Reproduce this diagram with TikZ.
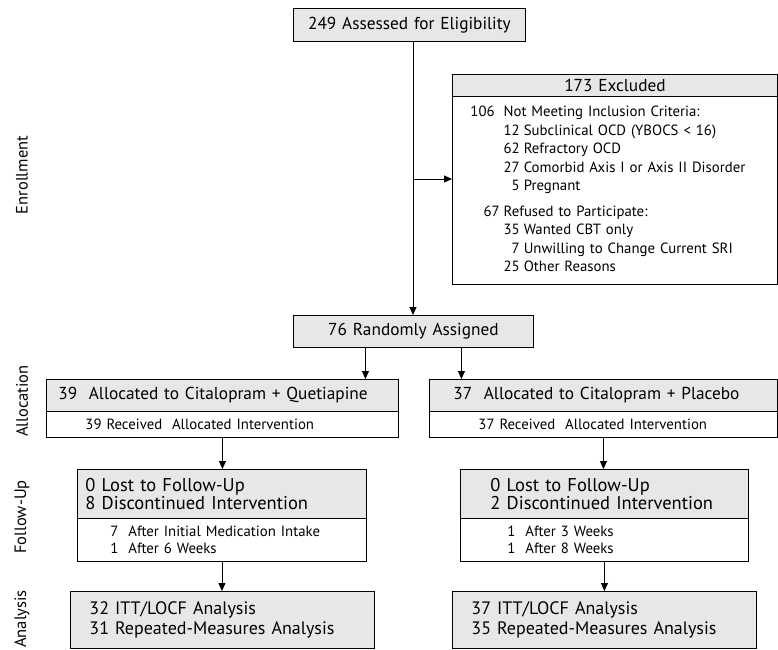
\documentclass[tikz,border=0pt]{standalone}
\usepackage{fontspec}
\setmainfont{PT Sans}
\usetikzlibrary{arrows.meta,positioning}
\definecolor{boxgray}{RGB}{231,231,231}
\newcommand{\bigtxt}{\fontsize{18.5}{17.5}\selectfont}
\newcommand{\antxt}{\fontsize{18}{20}\selectfont}
\newcommand{\midtxt}{\fontsize{17.3}{17}\selectfont}
\newcommand{\smalltxt}{\fontsize{14.8}{18.5}\selectfont}
\tikzset{
  box/.style={draw, line width=0.9pt, inner sep=0pt, anchor=north west, align=left},
  hdr/.style={box, fill=boxgray},
  arr/.style={line width=0.9pt, -{Triangle[length=8pt,width=7pt]}},
  phase/.style={rotate=90, font=\fontsize{16.5}{17}\selectfont, inner sep=0pt}
}

\begin{document}
\begin{tikzpicture}[x=1pt, y=-1pt]
\useasboundingbox (0,0) rectangle (778,649);
% phases
\node[phase] (enrol) at (22,175) {Enrollment};
\node[phase] (alloc) at (22,401) {Allocation};
\node[phase] (follow) at (22,517) {Follow-Up};
\node[phase] (analys) at (22,619) {Analysis};
% enrollment
\node[hdr, minimum height=33pt, text width=232pt, align=center, font=\midtxt] (elig) at (293,8) {249 Assessed for Eligibility};
\node[hdr, minimum height=22pt, text width=325pt, align=center, font=\midtxt] (excl) at (452,74) {173 Excluded};
\node[box, minimum height=188pt, text width=325pt, font=\smalltxt] (exclbody) at (452,96) {\hspace*{18pt}%
  \begin{tabular}{@{}r@{\hspace{9pt}}r@{\hspace{4pt}}l@{}}
  106 & \multicolumn{2}{@{}l}{Not Meeting Inclusion Criteria:}\\
   & 12 & Subclinical OCD (YBOCS < 16)\\
   & 62 & Refractory OCD\\
   & 27 & Comorbid Axis I or Axis II Disorder\\
   & 5 & Pregnant\\[7pt]
  67\kern-5pt & \multicolumn{2}{@{}l}{Refused to Participate:}\\
   & 35 & Wanted CBT only\\
   & 7 & Unwilling to Change Current SRI\\
   & 25 & Other Reasons
  \end{tabular}};
\node[hdr, minimum height=32pt, text width=240pt, align=center, font=\midtxt] (rand) at (293,315) {76 Randomly Assigned};
\coordinate (split) at (413,179);
\draw[arr] (elig.south -| split) -- (rand.north -| split);
\draw[arr] (split) -- (split -| exclbody.west);
% allocation
\node[hdr, minimum height=32pt, text width=352pt, font=\midtxt] (quet) at (46,379) {\hspace*{12pt}39\ \ Allocated to Citalopram + Quetiapine};
\node[box, minimum height=26pt, text width=352pt, font=\smalltxt] (quetrec) at (46,411) {\hspace*{39pt}39 Received\ \ Allocated Intervention};
\node[hdr, minimum height=32pt, text width=348pt, font=\midtxt] (plac) at (429,379) {\hspace*{24pt}37\ \ Allocated to Citalopram + Placebo};
\node[box, minimum height=26pt, text width=348pt, font=\smalltxt] (placrec) at (429,411) {\hspace*{49pt}37 Received\ \ Allocated Intervention};
\draw[arr] ([xshift=-48pt]rand.south) -- ([xshift=-48pt]rand.south |- quet.north);
\draw[arr] ([xshift=48pt]rand.south) -- ([xshift=48pt]rand.south |- plac.north);
% follow-up
\node[hdr, minimum height=49pt, text width=289pt, font=\bigtxt] (quetfu) at (77,469) {\hspace*{8pt}0 Lost to Follow-Up\\\hspace*{8pt}8 Discontinued Intervention};
\node[box, minimum height=43pt, text width=289pt, font=\smalltxt, execute at begin node={\setlength{\baselineskip}{17pt}}] (quetwhy) at (77,518) {\hspace*{33pt}7\ \ After Initial Medication Intake\\\hspace*{33pt}1\ \ After 6 Weeks};
\node[hdr, minimum height=49pt, text width=288pt, font=\bigtxt] (placfu) at (460,469) {\hspace*{30pt}0 Lost to Follow-Up\\\hspace*{30pt}2 Discontinued Intervention};
\node[box, minimum height=43pt, text width=288pt, font=\smalltxt, execute at begin node={\setlength{\baselineskip}{17pt}}] (placwhy) at (460,518) {\hspace*{47pt}1\ \ After 3 Weeks\\\hspace*{47pt}1\ \ After 8 Weeks};
\draw[arr] (quetrec.south) -- (quetrec.south |- quetfu.north);
\draw[arr] (placrec.south) -- (placrec.south |- placfu.north);
% analysis
\node[hdr, minimum height=57pt, text width=304pt, font=\antxt] (quetan) at (70,591) {\hspace*{19pt}32 ITT/LOCF Analysis\\\hspace*{19pt}31 Repeated-Measures Analysis};
\node[hdr, minimum height=57pt, text width=304pt, font=\antxt] (placan) at (452,591) {\hspace*{19pt}37 ITT/LOCF Analysis\\\hspace*{19pt}35 Repeated-Measures Analysis};
\draw[arr] (quetwhy.south) -- (quetwhy.south |- quetan.north);
\draw[arr] (placwhy.south) -- (placwhy.south |- placan.north);
\end{tikzpicture}
\end{document}
